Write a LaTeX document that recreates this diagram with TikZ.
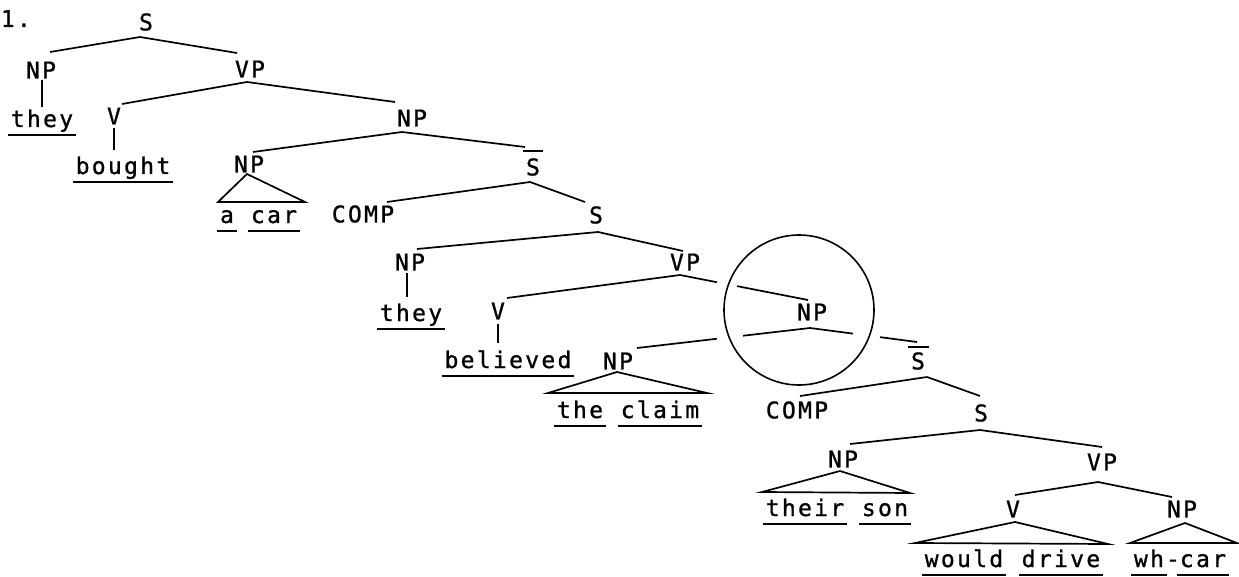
\documentclass[tikz,border=0pt]{standalone}
\usepackage{fontspec}
\usetikzlibrary{calc}
\newfontfamily\lblfont[LetterSpace=10,FakeBold=1]{DejaVu Sans Mono}
\newcommand{\lbl}{\lblfont\fontsize{23}{28}\selectfont}
\tikzset{
  lab/.style={font=\lbl, inner sep=0pt, text height=16.8pt, text depth=0pt},
  word/.style={font=\lbl, inner xsep=2pt, inner ysep=0pt, text height=17pt, text depth=7pt, anchor=base},
}
\begin{document}
\begin{tikzpicture}[x=1pt,y=-1pt,line width=1.7pt]
\fill[white] (0,0) rectangle (1239,577);
\useasboundingbox (0,0) rectangle (1239,577);
% number
\node[font=\lbl, inner sep=0pt, anchor=base west] (num) at (0,27) {1.};
% labels
\node[lab] (s1)    at (146,22)  {S};
\node[lab] (np1)   at (41,70)   {NP};
\node[lab] (vp1)   at (250,69)  {VP};
\node[lab] (v1)    at (114,116) {V};
\node[lab] (np2)   at (412,118) {NP};
\node[lab] (np3)   at (249,164) {NP};
\node[lab] (sb1)   at (533,167) {S};
\node[lab] (comp1) at (363,214) {COMP};
\node[lab] (s2)    at (596,215) {S};
\node[lab] (np4)   at (410,262) {NP};
\node[lab] (vp2)   at (685,262) {VP};
\node[lab] (v2)    at (498,311) {V};
\node[lab] (np5)   at (812,312) {NP};
\node[lab] (np6)   at (618,361) {NP};
\node[lab] (sb2)   at (918,361) {S};
\node[lab] (comp2) at (797,410) {COMP};
\node[lab] (s3)    at (981,413) {S};
\node[lab] (np7)   at (843,459) {NP};
\node[lab] (vp3)   at (1102,462) {VP};
\node[lab] (v3)    at (1013,509) {V};
\node[lab] (np8)   at (1182,509) {NP};
% words
\node[word] (wthey1)   at (42,127)   {they};
\node[word] (wbought)  at (123,174)  {bought};
\node[word] (wa)       at (227,223)  {a};
\node[word] (wcar1)    at (274,223)  {car};
\node[word] (wthey2)   at (411,321)  {they};
\node[word] (wbelieved) at (508,368) {believed};
\node[word] (wthe)     at (580,418)  {the};
\node[word] (wclaim)   at (660,418)  {claim};
\node[word] (wtheir)   at (805,516)  {their};
\node[word] (wson)     at (885,516)  {son};
\node[word] (wwould)   at (964,567)  {would};
\node[word] (wdrive)   at (1061,567) {drive};
\node[word] (wwh)      at (1149,567) {wh};
\node[word] (whyph)    at (1173,567) {-};
\node[word] (wcar2)    at (1203,567) {car};
% underlines
\foreach \w in {wthey1,wbought,wa,wcar1,wthey2,wbelieved,wthe,wclaim,wtheir,wson,wwould,wdrive,wwh,wcar2}
  \draw (\w.south west) -- (\w.south east);
% S-bar bars
\draw ($(sb1)+(-10,-16)$) -- ($(sb1)+(10,-16)$);
\draw ($(sb2)+(-10,-14)$) -- ($(sb2)+(11,-14)$);
% top S
\draw ($(s1)+(-6,15)$) -- ($(np1)+(9,-18)$);
\draw ($(s1)+(-6,15)$) -- ($(vp1)+(-13,-16)$);
\draw ($(np1)+(1,10)$) -- ($(np1)+(1,37)$);
% VP1
\draw ($(vp1)+(-3,13)$) -- ($(v1)+(8,-12)$);
\draw ($(vp1)+(-3,13)$) -- ($(np2)+(-17,-16)$);
\draw ($(v1)+(0,12)$) -- ($(v1)+(0,34)$);
% NP2
\draw ($(np2)+(-10,14)$) -- ($(np3)+(4,-12)$);
\draw ($(np2)+(-10,14)$) -- ($(sb1)+(-8,-20)$);
\draw ($(np3)+(-31,38)$) -- ($(np3)+(-2,10)$) -- ($(np3)+(56,38)$) -- cycle;
% S-bar 1
\draw ($(sb1)+(-3,15)$) -- ($(comp1)+(24,-12)$);
\draw ($(sb1)+(-3,15)$) -- ($(s2)+(-11,-13)$);
% S2
\draw ($(s2)+(2,17)$) -- ($(np4)+(7,-13)$);
\draw ($(s2)+(2,17)$) -- ($(vp2)+(-2,-11)$);
\draw ($(np4)+(-3,11)$) -- ($(np4)+(-3,35)$);
% VP2
\draw ($(vp2)+(-5,13)$) -- ($(v2)+(9,-13)$);
\draw ($(v2)+(0,13)$) -- ($(v2)+(0,32)$);
\coordinate (ja) at ($(vp2)+(-5,13)$);
\coordinate (jb) at ($(np5)+(-4,-12)$);
\draw (ja) -- ($(ja)!0.289!(jb)$);
\draw ($(ja)!0.445!(jb)$) -- (jb);
% circled NP
\draw[line width=1.6pt] ($(np5)+(-13,-2)$) circle [radius=75pt];
\coordinate (jc) at ($(np5)+(-2,16)$);
\coordinate (jd) at ($(np6)+(19,-13)$);
\coordinate (je) at ($(sb2)+(-1,-19)$);
\draw (jc) -- ($(jc)!0.387!(jd)$);
\draw ($(jc)!0.538!(jd)$) -- (jd);
\draw (jc) -- ($(jc)!0.402!(je)$);
\draw ($(jc)!0.654!(je)$) -- (je);
% NP6 triangle
\draw ($(np6)+(-70,32)$) -- ($(np6)+(-1,11)$) -- ($(np6)+(89,32)$) -- cycle;
% S-bar 2
\draw ($(sb2)+(9,16)$) -- ($(comp2)+(3,-14)$);
\draw ($(sb2)+(9,16)$) -- ($(s3)+(-1,-17)$);
% S3
\draw ($(s3)+(-1,17)$) -- ($(np7)+(7,-15)$);
\draw ($(s3)+(-1,17)$) -- ($(vp3)+(0,-15)$);
\draw ($(np7)+(-81,33)$) -- ($(np7)+(-3,12)$) -- ($(np7)+(67,34)$) -- cycle;
% VP3
\draw ($(vp3)+(-4,20)$) -- ($(v3)+(2,-14)$);
\draw ($(vp3)+(-4,20)$) -- ($(np8)+(-10,-12)$);
\draw ($(v3)+(-98,34)$) -- ($(v3)+(2,13)$) -- ($(v3)+(95,35)$) -- cycle;
\draw ($(np8)+(-52,34)$) -- ($(np8)+(3,14)$) -- ($(np8)+(55,34)$) -- cycle;
\end{tikzpicture}
\end{document}
